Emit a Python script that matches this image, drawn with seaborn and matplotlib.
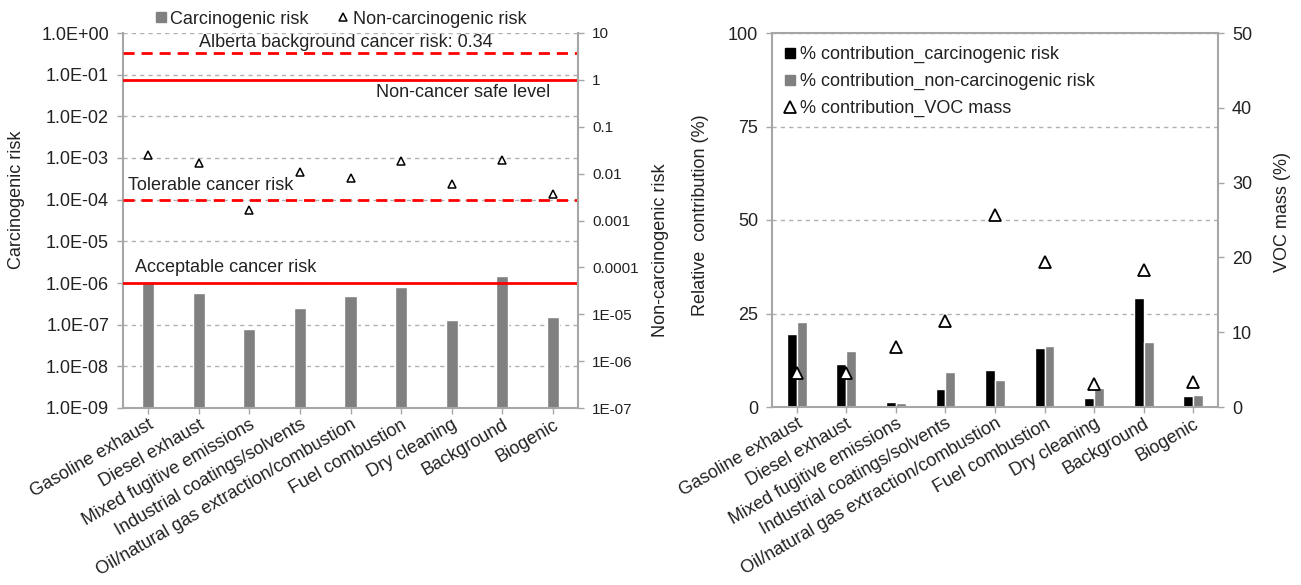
import numpy as np
import pandas as pd
import matplotlib
matplotlib.use("Agg")
import matplotlib.pyplot as plt
from matplotlib.lines import Line2D
from matplotlib.ticker import LogLocator, FuncFormatter, NullLocator, FixedLocator
import seaborn as sns

# ---- data -------------------------------------------------------------
sources = [
    "Gasoline exhaust", "Diesel exhaust", "Mixed fugitive emissions",
    "Industrial coatings/solvents", "Oil/natural gas extraction/combustion",
    "Fuel combustion", "Dry cleaning", "Background", "Biogenic",
]

carcinogenic_risk = [1.0e-6, 5.8e-7, 8.0e-8, 2.5e-7, 5.0e-7, 8.1e-7, 1.3e-7, 1.45e-6, 1.55e-7]
noncarcinogenic_risk = [0.0254, 0.0169, 0.00171, 0.0107, 0.0081, 0.0183, 0.0060, 0.0192, 0.00375]

pct_carcinogenic = [19.4, 11.6, 1.3, 4.9, 9.8, 15.9, 2.4, 29.2, 2.9]
pct_noncarcinogenic = [22.8, 14.9, 1.2, 9.4, 7.2, 16.4, 5.1, 17.3, 3.1]
pct_voc_mass = [4.6, 4.6, 8.0, 11.5, 25.7, 19.4, 3.1, 18.3, 3.3]

alberta_background_risk = 0.34
noncancer_safe_level = 1.0
tolerable_cancer_risk = 1e-4
acceptable_cancer_risk = 1e-6

contrib_ticks = [0, 25, 50, 75, 100]
voc_ticks = [0, 10, 20, 30, 40, 50]

# ---- style ------------------------------------------------------------
sns.set_theme(style="white")
plt.rcParams["font.family"] = ["Liberation Sans", "DejaVu Sans"]
TEXT = "#222222"
SPINE = "#a6a6a6"
GRID = "#b0b0b0"
BAR_GREY = "#808080"
FS = 13
XFS = 13

fig = plt.figure(figsize=(13.01, 5.85), dpi=100)
W, H = 1301, 585
ax1 = fig.add_axes([123 / W, 1 - 408 / H, 455 / W, 375 / H])
ax3 = fig.add_axes([772 / W, 1 - 407 / H, 446 / W, 374 / H])


def style_spines(ax, visible):
    for name, sp in ax.spines.items():
        sp.set_visible(name in visible)
        sp.set_color(SPINE)
        sp.set_linewidth(1.5)


def open_triangles(ax):
    for ln in ax.lines:
        if ln.get_marker() == "^":
            ln.set_markerfacecolor("white")
            ln.set_markeredgecolor("black")


# ---- left panel: absolute risk ---------------------------------------
sns.barplot(x=sources, y=carcinogenic_risk, color=BAR_GREY, saturation=1,
            width=0.24, ax=ax1)
ax1.set_yscale("log")
ax1.set_ylim(1e-9, 1)
ax1.set_xlim(-0.5, 8.5)
ax1.yaxis.set_major_locator(LogLocator(base=10, numticks=20))
ax1.yaxis.set_minor_locator(NullLocator())
ax1.yaxis.set_major_formatter(FuncFormatter(lambda v, p: f"{v:.1E}"))
ax1.grid(axis="y", color=GRID, linestyle=(0, (3, 3)), linewidth=1)
ax1.set_axisbelow(True)

dash = (0, (4, 2.5))
ax1.axhline(alberta_background_risk, color="red", lw=2, ls=dash, zorder=3)
ax1.axhline(tolerable_cancer_risk, color="red", lw=2, ls=dash, zorder=3)
ax1.axhline(acceptable_cancer_risk, color="red", lw=2, zorder=3)

ax2 = ax1.twinx()
sns.pointplot(x=sources, y=noncarcinogenic_risk, ax=ax2, color="black",
              marker="^", linestyle="none", markersize=6,
              markeredgewidth=1.1, errorbar=None)
open_triangles(ax2)
ax2.axhline(noncancer_safe_level, color="red", lw=2, zorder=1)
ax2.set_yscale("log")
ax2.set_ylim(1e-7, 10)
ax2.yaxis.set_major_locator(LogLocator(base=10, numticks=20))
ax2.yaxis.set_minor_locator(NullLocator())
ax2.yaxis.set_major_formatter(FuncFormatter(lambda v, p: f"{v:G}"))
ax1.set_xlim(-0.5, 8.5)

yx1 = ax1.get_yaxis_transform()
yx2 = ax2.get_yaxis_transform()
ax1.text(0.489, 0.60, "Alberta background cancer risk: 0.34", transform=yx1,
         ha="center", va="center", fontsize=FS, color=TEXT)
ax2.text(0.938, 0.53, "Non-cancer safe level", transform=yx2,
         ha="right", va="center", fontsize=FS, color=TEXT)
ax1.text(0.011, 2.18e-4, "Tolerable cancer risk", transform=yx1,
         ha="left", va="center", fontsize=FS, color=TEXT)
ax1.text(0.026, 2.35e-6, "Acceptable cancer risk", transform=yx1,
         ha="left", va="center", fontsize=FS, color=TEXT)

ax1.set_ylabel("Carcinogenic risk", fontsize=FS, color=TEXT)
ax1.yaxis.set_label_coords(-0.216, 0.555)
ax2.set_ylabel("Non-carcinogenic risk", fontsize=FS, color=TEXT)
ax2.yaxis.set_label_coords(1.163, 0.42)
ax1.set_xlabel("")

style_spines(ax1, ["left", "bottom"])
style_spines(ax2, ["right"])

h_bar = Line2D([], [], marker="s", color=BAR_GREY, linestyle="none", markersize=7)
h_tri = Line2D([], [], marker="^", markerfacecolor="white", markeredgecolor="black",
               markeredgewidth=1.1, linestyle="none", markersize=6)
ax2.legend([h_bar, h_tri], ["Carcinogenic risk", "Non-carcinogenic risk"],
           loc="center", bbox_to_anchor=(0.479, 1.037), ncol=2, frameon=False,
           handlelength=0.6, handletextpad=0.25, columnspacing=1.6,
           prop={"size": FS}, labelcolor=TEXT)

# ---- right panel: relative contribution ------------------------------
contrib = pd.DataFrame({
    "source": sources * 2,
    "series": ["% contribution_carcinogenic risk"] * len(sources)
              + ["% contribution_non-carcinogenic risk"] * len(sources),
    "value": pct_carcinogenic + pct_noncarcinogenic,
})
sns.barplot(data=contrib, x="source", y="value", hue="series",
            palette=["black", BAR_GREY], saturation=1, width=0.4, gap=0,
            ax=ax3, legend=False)
ax3.set_ylim(0, 100)
ax3.set_xlim(-0.5, 8.5)
ax3.yaxis.set_major_locator(FixedLocator(contrib_ticks))
ax3.grid(axis="y", color=GRID, linestyle=(0, (3, 3)), linewidth=1)
ax3.set_axisbelow(True)

ax4 = ax3.twinx()
sns.pointplot(x=sources, y=pct_voc_mass, ax=ax4, color="black",
              marker="^", linestyle="none", markersize=8,
              markeredgewidth=1.3, errorbar=None)
open_triangles(ax4)
ax4.set_ylim(0, 50)
ax4.yaxis.set_major_locator(FixedLocator(voc_ticks))
ax3.set_xlim(-0.5, 8.5)

ax3.set_ylabel("Relative  contribution (%)", fontsize=FS, color=TEXT)
ax3.yaxis.set_label_coords(-0.141, 0.514)
ax4.set_ylabel("VOC mass (%)", fontsize=FS, color=TEXT)
ax4.yaxis.set_label_coords(1.1256, 0.522)
ax3.set_xlabel("")

style_spines(ax3, ["left", "bottom", "top"])
style_spines(ax4, ["right"])

h_c = Line2D([], [], marker="s", color="black", linestyle="none", markersize=7)
h_n = Line2D([], [], marker="s", color=BAR_GREY, linestyle="none", markersize=7)
h_v = Line2D([], [], marker="^", markerfacecolor="white", markeredgecolor="black",
             markeredgewidth=1.3, linestyle="none", markersize=9)
ax4.legend([h_c, h_n, h_v],
           ["% contribution_carcinogenic risk",
            "% contribution_non-carcinogenic risk",
            "% contribution_VOC mass"],
           loc="upper left", bbox_to_anchor=(0.011, 0.985), frameon=False,
           handlelength=0.6, handletextpad=0.3, labelspacing=0.55,
           borderaxespad=0, prop={"size": FS}, labelcolor=TEXT)

# ---- shared tick styling ---------------------------------------------
for ax in (ax1, ax3):
    ax.set_xticks(range(len(sources)))
    ax.set_xticklabels(sources, rotation=30, ha="right", rotation_mode="anchor")
    ax.tick_params(axis="x", bottom=True, length=4, width=1, color=SPINE,
                   labelsize=XFS, labelcolor=TEXT, pad=2)
    ax.tick_params(axis="y", left=True, length=4, width=1, color=SPINE,
                   labelsize=FS, labelcolor=TEXT, pad=6)
ax2.tick_params(axis="y", right=True, length=4, width=1, color=SPINE,
                labelsize=11, labelcolor=TEXT, pad=6)
ax4.tick_params(axis="y", right=True, length=4, width=1, color=SPINE,
                labelsize=FS, labelcolor=TEXT, pad=6)

fig.savefig("out.png", dpi=100)
